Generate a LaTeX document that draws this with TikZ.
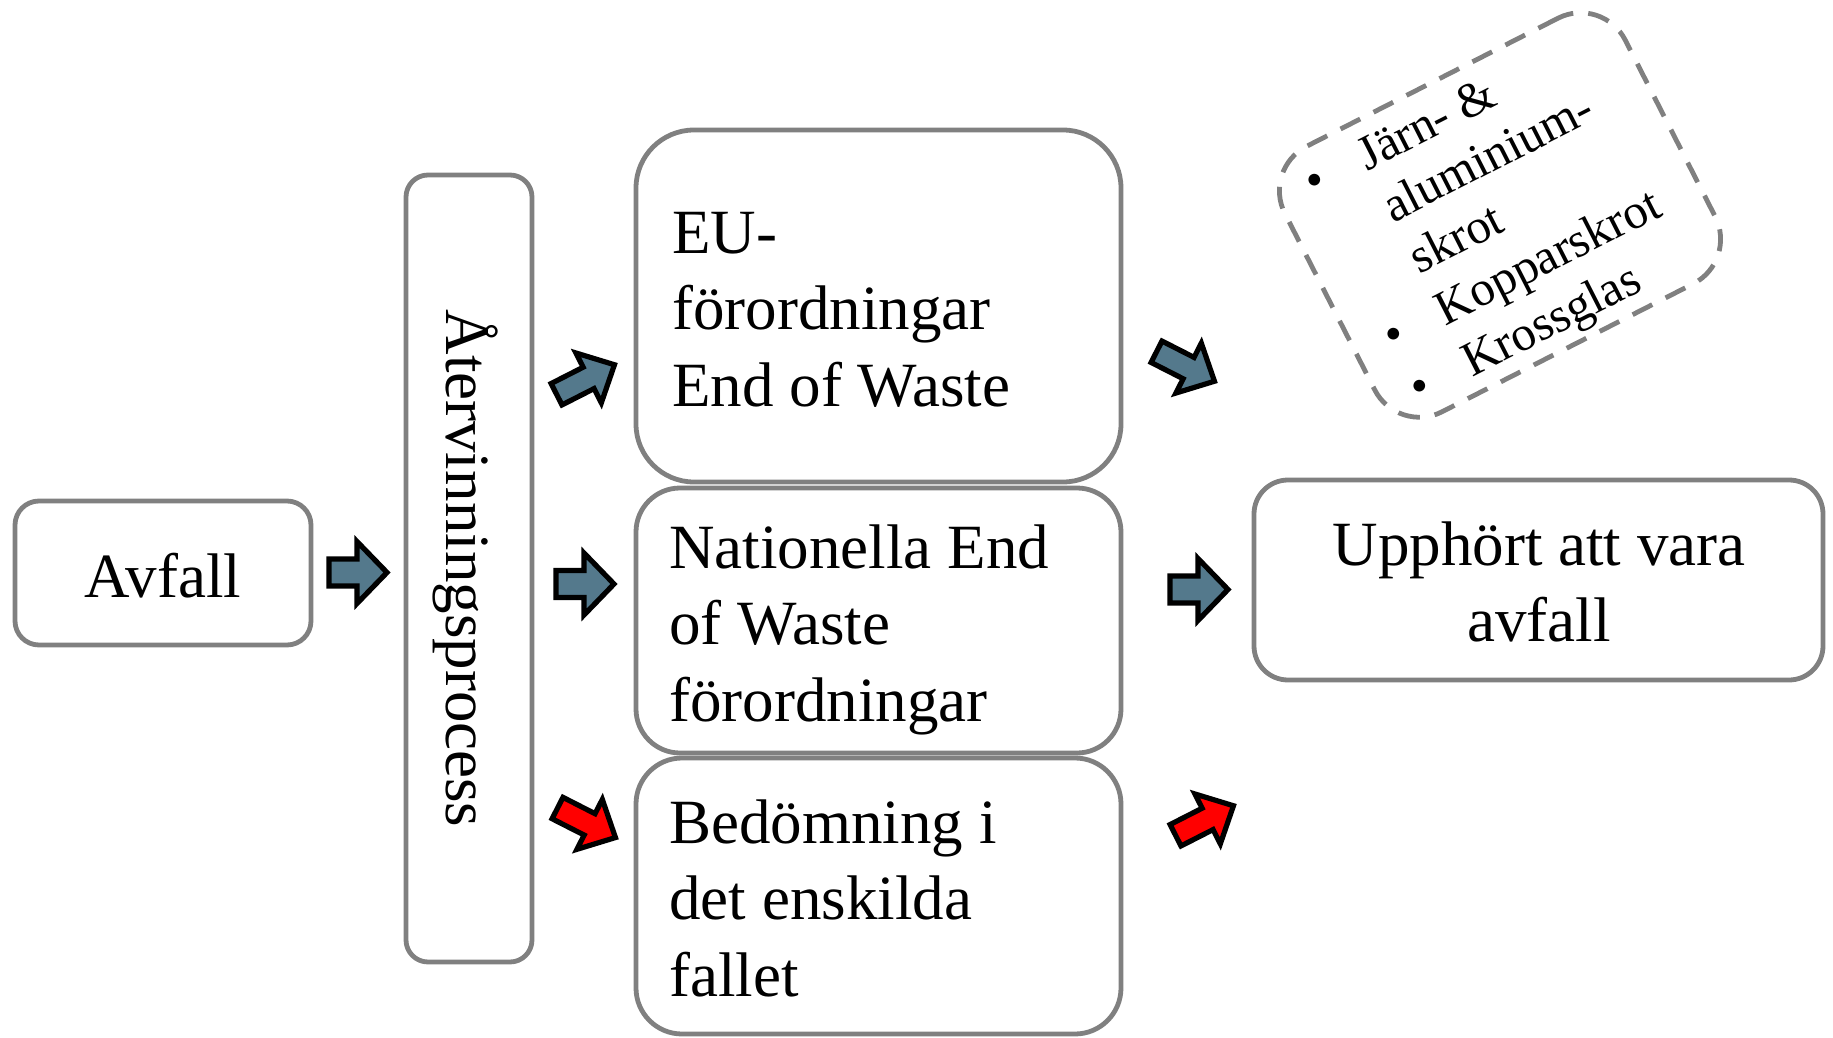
\documentclass[tikz,border=0pt]{standalone}
\usepackage{fontspec}
\setmainfont{Liberation Serif}
\definecolor{boxgray}{RGB}{128,128,128}
\definecolor{bluegray}{RGB}{84,121,140}
\definecolor{arrred}{RGB}{255,0,0}
\newcommand{\linesL}[1]{\begin{tabular}[t]{@{}l@{}}#1\end{tabular}}
\newcommand{\linesC}[1]{\begin{tabular}[t]{@{}c@{}}#1\end{tabular}}
\newcommand{\bul}{\llap{\textbullet\hspace{21pt}}}
\begin{document}
\begin{tikzpicture}[x=0.5pt,y=-0.5pt,
  box/.style={draw=boxgray,line width=2.4pt,fill=white,inner sep=0pt},
  txt/.style={inner sep=0pt,font=\fontsize{31.5}{38.25}\selectfont},
  smalltxt/.style={inner sep=0pt,font=\fontsize{24.5}{28.9}\selectfont},
  blockline/.style={draw=black,line width=2.6pt,line join=miter,miter limit=10},
  pics/harrow/.style={code={\path[blockline,fill=#1] (-29,-13.5) -- (-1,-13.5) -- (-1,-31) -- (29,0) -- (-1,31) -- (-1,13.5) -- (-29,13.5) -- cycle;}},
  pics/darrow/.style={code={\path[blockline,fill=#1] (-32.5,-12) -- (3.5,-12) -- (3.5,-28) -- (32.5,0) -- (3.5,28) -- (3.5,12) -- (-32.5,12) -- cycle;}}
]
\useasboundingbox (0,0) rectangle (1833,1038);

% boxes
\node[box,minimum width=148pt,minimum height=72pt,rounded corners=12pt] (avfall) at (163,573) {};
\node[txt,anchor=base] (avfall-t) at (163,597) {Avfall};

\node[box,minimum width=63pt,minimum height=393.5pt,rounded corners=11pt] (proc) at (469,568.5) {};
\node[txt,rotate=-90,anchor=base] (proc-t) at (446,568.5) {Återvinningsprocess};

\node[box,minimum width=242.5pt,minimum height=176pt,rounded corners=29pt] (eu) at (878.5,306) {};
\node[txt,anchor=base west] (eu-t) at (672,253.5) {\linesL{EU-\\förordningar\\End of Waste}};

\node[box,minimum width=242.5pt,minimum height=132.5pt,rounded corners=22pt] (nat) at (878.5,620.5) {};
\node[txt,anchor=base west] (nat-t) at (669,568) {\linesL{Nationella End\\of Waste\\förordningar}};

\node[box,minimum width=242.5pt,minimum height=138pt,rounded corners=23pt] (bed) at (878.5,896) {};
\node[txt,anchor=base west] (bed-t) at (669,843) {\linesL{Bedömning i\\det enskilda\\fallet}};

\node[box,minimum width=284.5pt,minimum height=100pt,rounded corners=17pt] (upph) at (1538.5,580) {};
\node[txt,anchor=base] (upph-t) at (1539,565) {\linesC{Upphört att vara\\avfall}};

% dashed list
\begin{scope}[shift={(1500,215)},rotate=27,transform shape]
  \node[draw=boxgray,line width=2.4pt,dash pattern=on 11pt off 7.5pt,minimum width=191pt,minimum height=149pt,rounded corners=25pt,inner sep=0pt] (scrap) at (0,0) {};
  \node[smalltxt,anchor=base west] (scrap-t) at (-99,-99) {\linesL{\bul Järn- \&\\aluminium-\\skrot\\\bul Kopparskrot\\\bul Krossglas}};
\end{scope}

% block arrows
\pic at (358,572.5) {harrow=bluegray};
\pic[rotate=27] at (585.5,379.5) {darrow=bluegray};
\pic at (585,584) {harrow=bluegray};
\pic[rotate=-27] at (586.5,822.8) {darrow=arrred};
\pic[rotate=-27] at (1185.5,366.5) {darrow=bluegray};
\pic at (1199,589.5) {harrow=bluegray};
\pic[rotate=27] at (1204.5,820.5) {darrow=arrred};
\end{tikzpicture}
\end{document}
